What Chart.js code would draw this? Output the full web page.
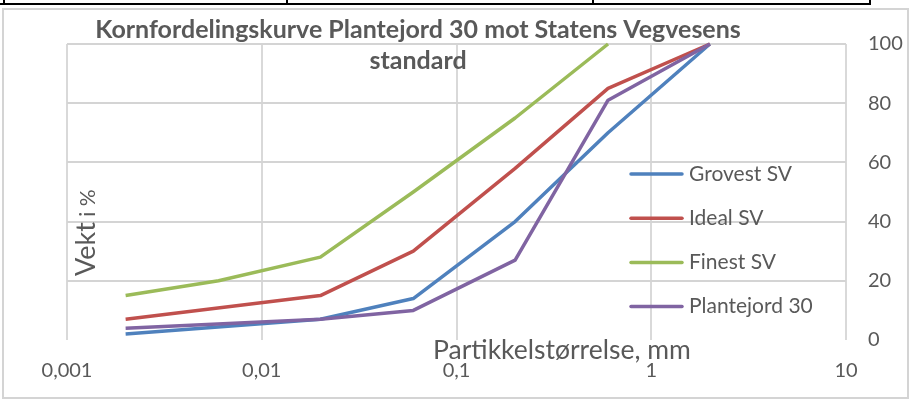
<!DOCTYPE html>
<html><head><meta charset="utf-8">
<script src="https://cdn.jsdelivr.net/npm/chart.js@4.4.0/dist/chart.umd.min.js"></script>
<style>
html,body{margin:0;padding:0;background:#fff;width:913px;height:401px;overflow:hidden;}
#wrap{position:relative;width:913px;height:401px;}
.tl{position:absolute;background:#000;}
#frame{position:absolute;left:2px;top:8px;width:907px;height:391px;border:2px solid #d4d4d4;box-sizing:border-box;}
canvas{position:absolute;left:0;top:0;}
</style></head><body>
<div id="wrap">
<div class="tl" style="left:0;top:3px;width:871px;height:2px"></div>
<div class="tl" style="left:3px;top:0;width:2px;height:5px"></div>
<div class="tl" style="left:286px;top:0;width:2px;height:5px"></div>
<div class="tl" style="left:592px;top:0;width:2px;height:5px"></div>
<div class="tl" style="left:869px;top:0;width:2px;height:5px"></div>
<div id="frame"></div>
<canvas id="c" width="913" height="401"></canvas>
</div>
<script>
// ---- data ----
const particleSizes = [0.002, 0.006, 0.02, 0.06, 0.2, 0.6, 2];
const grovestSV     = [2, null, 7, 14, 40, 70, 100];
const idealSV       = [7, null, 15, 30, 58, 85, 100];
const finestSV      = [15, 20, 28, 50, 75, 100, null];
const plantejord30  = [4, null, 7, 10, 27, 81, 100];
const seriesNames   = ['Grovest SV', 'Ideal SV', 'Finest SV', 'Plantejord 30'];
const xTickValues   = [0.001, 0.01, 0.1, 1, 10];
const xTickLabels   = ['0,001', '0,01', '0,1', '1', '10'];
const titleLines    = ['Kornfordelingskurve Plantejord 30 mot Statens Vegvesens', 'standard'];
const xAxisTitle    = 'Partikkelstørrelse, mm';
const yAxisTitleMain = 'Vekt';
const yAxisTitleSmall = ' i %';

// ---- style ----
const colors = ['#4F81BD', '#C0504D', '#9BBB59', '#8064A2'];
const textColor = '#595959';
const FONT = 'Lato';

function toPoints(vals){
  const pts = [];
  particleSizes.forEach((x, i) => { if (vals[i] !== null) pts.push({x: x, y: vals[i]}); });
  return pts;
}
const allSeries = [grovestSV, idealSV, finestSV, plantejord30];
const datasets = allSeries.map((vals, i) => ({
  label: seriesNames[i],
  data: toPoints(vals),
  borderColor: colors[i],
  backgroundColor: colors[i],
  borderWidth: 3.5,
  pointRadius: 0,
  tension: 0,
  fill: false,
  clip: 4,
  borderJoinStyle: 'round',
  order: allSeries.length - 1 - i
}));

const overlay = {
  id: 'overlay',
  afterDraw(chart){
    const ctx = chart.ctx;
    ctx.save();
    ctx.fillStyle = textColor;
    // title
    ctx.font = 'bold 25px ' + FONT;
    ctx.textAlign = 'center';
    ctx.textBaseline = 'alphabetic';
    ctx.fillText(titleLines[0], 418, 38);
    ctx.fillText(titleLines[1], 418, 69);
    // x axis title
    ctx.font = '26.5px ' + FONT;
    ctx.textAlign = 'left';
    ctx.fillText(xAxisTitle, 433, 359);
    // y axis title (rotated)
    ctx.save();
    ctx.translate(95, 276);
    ctx.rotate(-Math.PI / 2);
    ctx.textAlign = 'left';
    ctx.font = '27px ' + FONT;
    ctx.fillText(yAxisTitleMain, 0, 0);
    const w = ctx.measureText(yAxisTitleMain).width;
    ctx.font = '21px ' + FONT;
    ctx.fillText(yAxisTitleSmall, w, 0);
    ctx.restore();
    // legend
    ctx.font = '21px ' + FONT;
    ctx.textBaseline = 'middle';
    chart.data.datasets.forEach((ds, i) => {
      const y = 174 + 44.2 * i;
      ctx.strokeStyle = ds.borderColor;
      ctx.lineWidth = 3.5;
      ctx.lineCap = 'round';
      ctx.beginPath();
      ctx.moveTo(631, y);
      ctx.lineTo(682, y);
      ctx.stroke();
      ctx.fillStyle = textColor;
      ctx.fillText(ds.label, 689, y);
    });
    ctx.restore();
  }
};

new Chart(document.getElementById('c'), {
  type: 'line',
  data: { datasets: datasets },
  options: {
    responsive: false,
    animation: false,
    events: [],
    layout: { padding: { left: 67, top: 44, right: 0, bottom: 0 } },
    plugins: { legend: { display: false }, tooltip: { enabled: false }, title: { display: false } },
    scales: {
      x: {
        type: 'logarithmic',
        position: 'bottom',
        min: 0.001,
        max: 10,
        afterBuildTicks: s => { s.ticks = xTickValues.map(v => ({ value: v, major: true })); },
        afterFit: s => { s.height = 61; },
        ticks: {
          autoSkip: false,
          maxRotation: 0,
          padding: 19,
          color: textColor,
          font: { family: FONT, size: 20 },
          callback: (v, i) => xTickLabels[i]
        },
        grid: { color: '#d9d9d9', lineWidth: 2, drawTicks: false },
        border: { display: false }
      },
      y: {
        type: 'linear',
        position: 'right',
        min: 0,
        max: 100,
        afterFit: s => { s.width = 67; },
        ticks: {
          stepSize: 20,
          padding: 22,
          color: textColor,
          font: { family: FONT, size: 20 }
        },
        grid: {
          color: c => (c.tick && c.tick.value === 0) ? 'rgba(0,0,0,0)' : '#d4d4d4',
          lineWidth: 2,
          drawTicks: false
        },
        border: { display: false }
      }
    }
  },
  plugins: [overlay]
});
</script>
</body></html>
